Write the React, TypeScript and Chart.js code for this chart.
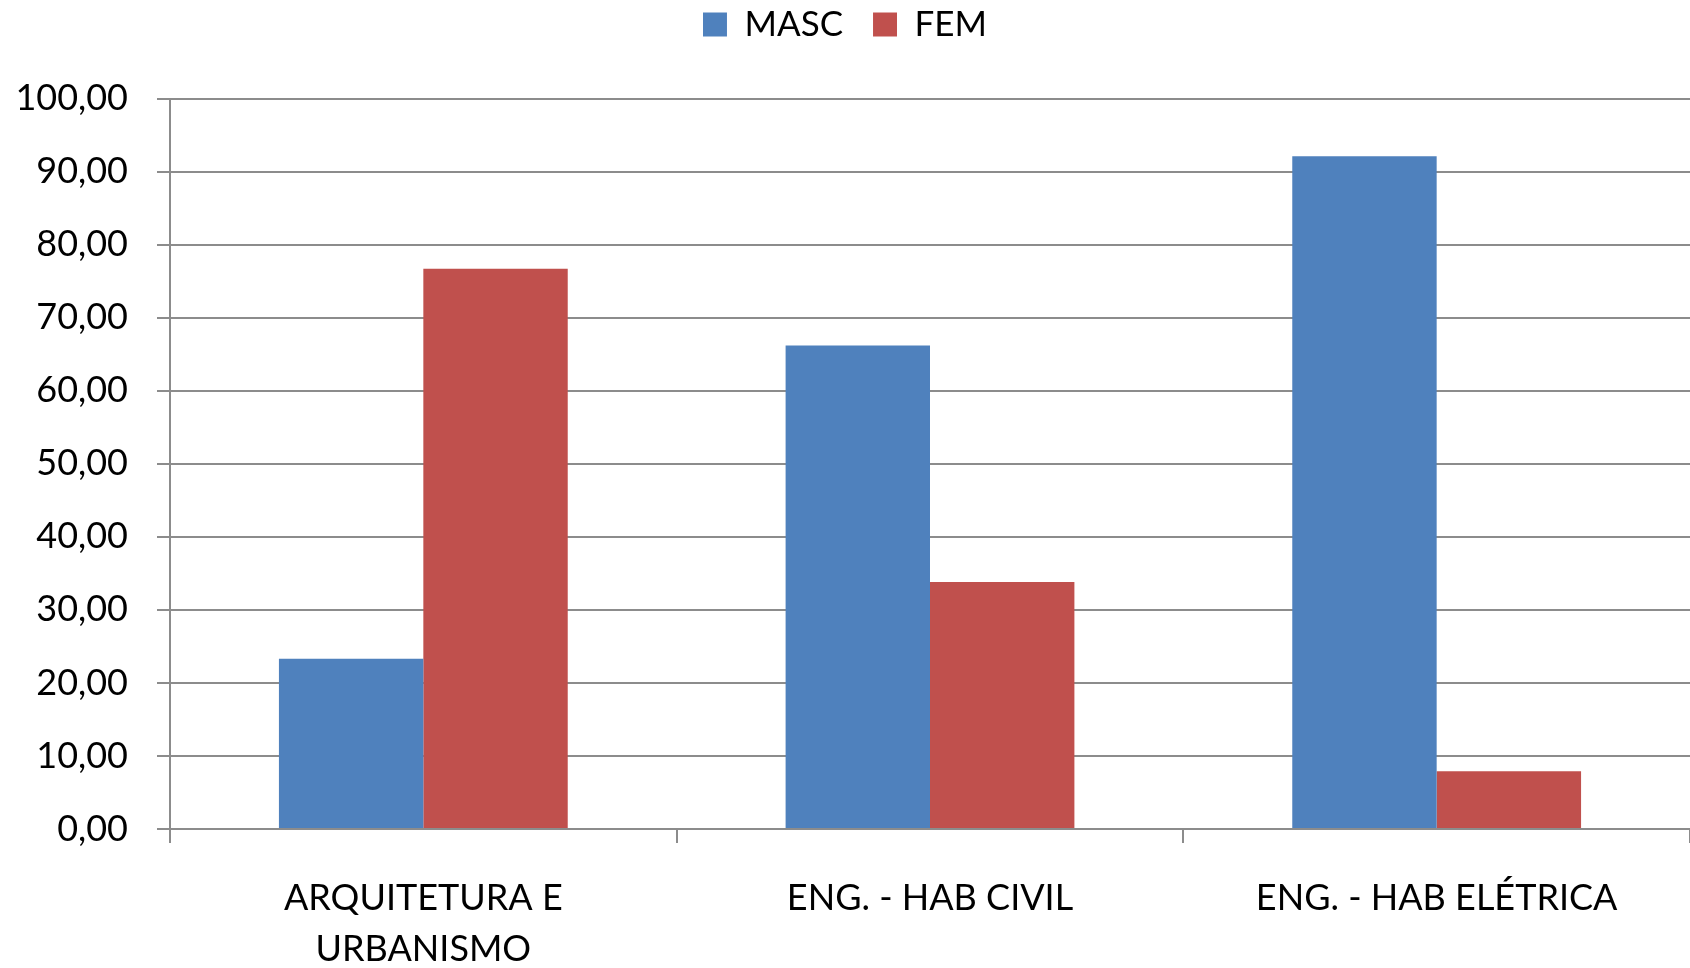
import React, { useEffect, useRef } from "react";
import { Chart, registerables } from "chart.js";

Chart.register(...registerables);

const categories: (string | string[])[] = [
  ["ARQUITETURA E", "URBANISMO"],
  "ENG. - HAB CIVIL",
  "ENG. - HAB ELÉTRICA",
];
const mascValues = [23.3, 66.2, 92.1];
const femValues = [76.7, 33.8, 7.9];
const yMin = 0;
const yMax = 100;
const yStep = 10;

const FONT = "Lato, 'Open Sans', sans-serif";
const GRID = "#8c8c8c";

export default function App() {
  const ref = useRef<HTMLCanvasElement | null>(null);

  useEffect(() => {
    if (!ref.current) return;
    const chart = new Chart(ref.current, {
      type: "bar",
      data: {
        labels: categories,
        datasets: [
          {
            label: "MASC",
            data: mascValues,
            backgroundColor: "#4F81BD",
            borderWidth: 0,
            categoryPercentage: 0.57,
            barPercentage: 1,
          },
          {
            label: "FEM",
            data: femValues,
            backgroundColor: "#C0504D",
            borderWidth: 0,
            categoryPercentage: 0.57,
            barPercentage: 1,
          },
        ],
      },
      options: {
        animation: false,
        responsive: false,
        maintainAspectRatio: false,
        layout: { padding: { top: -23, left: 0, right: 0, bottom: 0 } },
        plugins: {
          legend: {
            display: true,
            position: "top",
            labels: {
              boxWidth: 24,
              boxHeight: 24,
              padding: 30,
              color: "#000",
              font: { family: FONT, size: 35 },
            },
          },
          title: {
            display: true,
            text: "",
            weight: 500,
            font: { size: 1, lineHeight: 1 },
            padding: { top: 0, bottom: 45.5 },
          } as any,
          tooltip: { enabled: false },
        },
        scales: {
          x: {
            offset: true,
            grid: {
              offset: true,
              drawOnChartArea: false,
              drawTicks: true,
              tickLength: 14,
              color: GRID,
              lineWidth: 2,
            },
            border: { display: true, color: GRID, width: 2 },
            ticks: {
              color: "#000",
              padding: 29,
              maxRotation: 0,
              autoSkip: false,
              font: { family: FONT, size: 36, lineHeight: 1.44 },
            },
            afterFit: (scale: any) => {
              scale.height = 139;
            },
          },
          y: {
            min: yMin,
            max: yMax,
            grid: {
              color: GRID,
              lineWidth: 2,
              tickLength: 13,
              drawTicks: true,
            },
            border: { display: true, color: GRID, width: 2 },
            ticks: {
              stepSize: yStep,
              color: "#000",
              padding: 29,
              font: { family: FONT, size: 36 },
              callback: (v: any) => Number(v).toFixed(2).replace(".", ","),
            },
            afterFit: (scale: any) => {
              scale.width = 170;
            },
          },
        },
      },
    });
    return () => chart.destroy();
  }, []);

  return (
    <div style={{ position: "fixed", left: 0, top: 0, width: 1690, height: 968, background: "#fff" }}>
      <canvas ref={ref} width={1690} height={968} style={{ display: "block", width: 1690, height: 968 }} />
    </div>
  );
}
